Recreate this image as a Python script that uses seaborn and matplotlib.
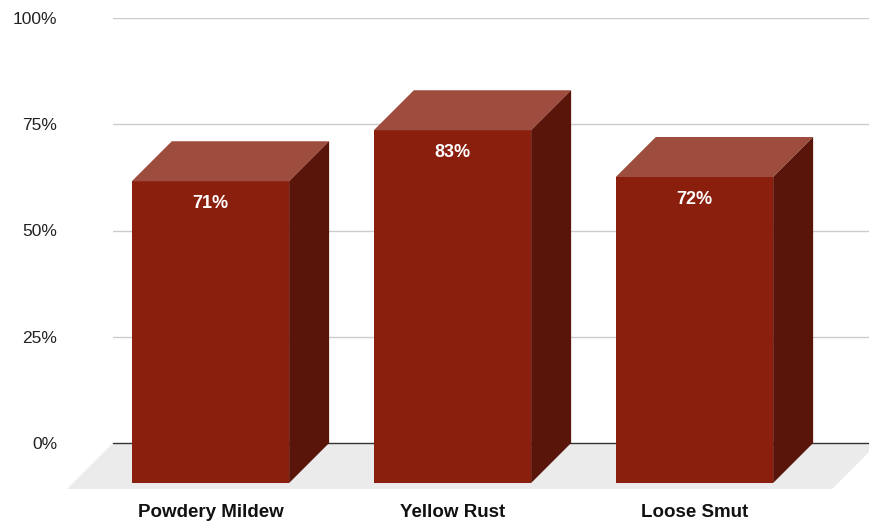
import matplotlib
matplotlib.use("Agg")
import matplotlib.pyplot as plt
from matplotlib.patches import Polygon
from matplotlib.transforms import ScaledTranslation
import seaborn as sns
import pandas as pd

# data
categorias = ["Powdery Mildew", "Yellow Rust", "Loose Smut"]
valores = [71, 83, 72]
ticks_y = [0, 25, 50, 75, 100]

col_frente = "#8a1f0e"
col_arriba = "#9e4c3e"
col_lado = "#5a150b"
col_piso = "#ebebeb"

sns.set_style("white")
plt.rcParams["font.family"] = ["Liberation Sans", "DejaVu Sans"]

fig = plt.figure(figsize=(8.7, 5.27), dpi=100)
W, H = 870, 527
ax = fig.add_axes([113 / W, (H - 443) / H, (870 - 113) / W, (443 - 18) / H])

df = pd.DataFrame({"enfermedad": categorias, "valor": valores})
sns.barplot(data=df, x="enfermedad", y="valor", width=0.65, color=col_frente,
            saturation=1, ax=ax, zorder=5)

ax.set_ylim(0, 100)
ax.set_xlim(-0.568, 2.56)

# profundidad en pixeles -> datos
px_x = ax.transData.transform((1, 0))[0] - ax.transData.transform((0, 0))[0]
px_y = ax.transData.transform((0, 1))[1] - ax.transData.transform((0, 0))[1]
dx = 40 / px_x
dy = 40 / px_y

# piso
piso_dx = 46 / px_x
piso_dy = 46 / px_y
x0, x1 = ax.get_xlim()
x1p = x1 + 8 / px_x
piso = Polygon([(x0, 0), (x1p, 0), (x1p - piso_dx, -piso_dy),
                (x0 - piso_dx, -piso_dy)], closed=True, facecolor=col_piso,
               edgecolor="none", clip_on=False, zorder=1)
ax.add_patch(piso)

# grilla
for t in ticks_y:
    if t == 0:
        ax.axhline(t, color="#333333", lw=1, zorder=2, clip_on=False)
    else:
        ax.axhline(t, color="#cccccc", lw=1, zorder=0.5)

# caras 3D
for p, v in zip(ax.patches[:len(valores)], valores):
    xb = p.get_x()
    w = p.get_width()
    p.set_x(xb - dx)
    p.set_y(-dy)
    p.set_height(v)
    p.set_clip_on(False)
    p.set_edgecolor("none")
    fx0, fx1 = xb - dx, xb - dx + w
    ft = v - dy
    arriba = Polygon([(fx0, ft), (fx1, ft), (fx1 + dx, v), (fx0 + dx, v)],
                     closed=True, facecolor=col_arriba, edgecolor="none",
                     clip_on=False, zorder=5)
    lado = Polygon([(fx1, ft), (fx1 + dx, v), (fx1 + dx, 0), (fx1, -dy)],
                   closed=True, facecolor=col_lado, edgecolor="none",
                   clip_on=False, zorder=5)
    ax.add_patch(arriba)
    ax.add_patch(lado)
    ax.annotate(f"{v}%", xy=(xb + w / 2, v), xytext=(-40, -62),
                textcoords="offset pixels", ha="center", va="center",
                color="white", fontsize=13, fontweight="bold", zorder=6)

ax.set_yticks(ticks_y)
ax.set_yticklabels([f"{t}%" for t in ticks_y], fontsize=12.5, color="#222222")
ax.tick_params(axis="y", length=0, pad=40)
ax.tick_params(axis="x", length=0, pad=44)
ax.set_xticks(range(len(categorias)))
ax.set_xticklabels(categorias, fontsize=13.5, fontweight="bold", color="#111111")
for lab in ax.get_xticklabels():
    lab.set_transform(lab.get_transform() + ScaledTranslation(-0.4, 0, fig.dpi_scale_trans))

ax.set_xlabel("")
ax.set_ylabel("")
sns.despine(ax=ax, left=True, bottom=True)

fig.savefig("out.png", dpi=100)
